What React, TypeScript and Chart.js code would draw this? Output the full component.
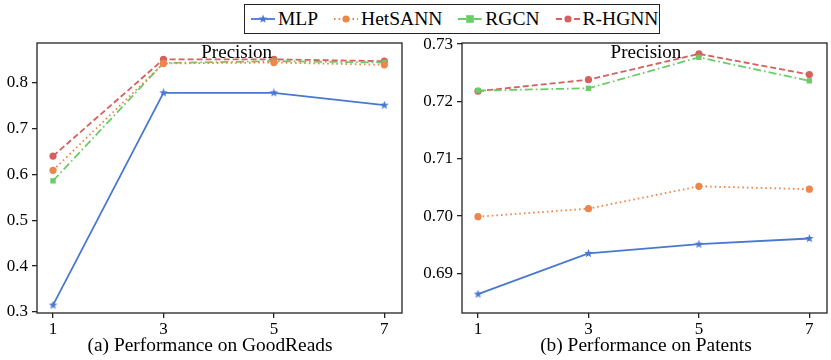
import React, { useEffect, useRef } from "react";
import { Chart, registerables } from "chart.js";
Chart.register(...registerables);

// ---- data ----
const xTicks = [1, 3, 5, 7];
const seriesNames = ["MLP", "HetSANN", "RGCN", "R-HGNN"];

const goodreadsMLP = [0.315, 0.778, 0.778, 0.751];
const goodreadsHetSANN = [0.609, 0.842, 0.844, 0.839];
const goodreadsRGCN = [0.586, 0.843, 0.847, 0.844];
const goodreadsRHGNN = [0.64, 0.851, 0.851, 0.847];

const patentsMLP = [0.6864, 0.6935, 0.6951, 0.6961];
const patentsHetSANN = [0.6999, 0.7013, 0.7052, 0.7047];
const patentsRGCN = [0.7219, 0.7223, 0.7277, 0.7236];
const patentsRHGNN = [0.7218, 0.7238, 0.7283, 0.7247];

const goodreadsYTicks = [0.3, 0.4, 0.5, 0.6, 0.7, 0.8];
const patentsYTicks = [0.69, 0.7, 0.71, 0.72, 0.73];

const panelTitle = "Precision";
const subtitleA = "(a) Performance on GoodReads";
const subtitleB = "(b) Performance on Patents";

// ---- styles ----
const FONT = "'Liberation Serif', 'Times New Roman', serif";
const colors = ["#4878d0", "#ee854a", "#6acc64", "#d65f5f"];
const dashes: number[][] = [[], [1.6, 3], [8, 3, 1.6, 3], [6, 3]];
const markers = ["star", "circle", "rect", "circle"];
const INK = "#222";

function makeStar(size: number, color: string) {
  const c = document.createElement("canvas");
  c.width = size;
  c.height = size;
  const ctx = c.getContext("2d")!;
  const cx = size / 2,
    cy = size / 2,
    R = size / 2,
    r = R * 0.42;
  ctx.beginPath();
  for (let i = 0; i < 10; i++) {
    const a = -Math.PI / 2 + (i * Math.PI) / 5;
    const rad = i % 2 === 0 ? R : r;
    const x = cx + rad * Math.cos(a);
    const y = cy + rad * Math.sin(a);
    if (i === 0) ctx.moveTo(x, y);
    else ctx.lineTo(x, y);
  }
  ctx.closePath();
  ctx.fillStyle = color;
  ctx.fill();
  return c;
}

const framePlugin = {
  id: "frame",
  beforeDatasetsDraw(chart: any) {
    const { ctx, chartArea } = chart;
    ctx.save();
    ctx.strokeStyle = INK;
    ctx.lineWidth = 1.3;
    ctx.strokeRect(chartArea.left, chartArea.top, chartArea.right - chartArea.left, chartArea.bottom - chartArea.top);
    ctx.restore();
  },
  afterDatasetsDraw(chart: any, _args: any, opts: any) {
    const { ctx, chartArea } = chart;
    const w = chartArea.right - chartArea.left;
    ctx.save();
    ctx.fillStyle = "#000";
    ctx.textAlign = "center";
    ctx.textBaseline = "alphabetic";
    ctx.font = `19px ${FONT}`;
    ctx.fillText(opts.text, chartArea.left + w * opts.frac, chartArea.top + 15);
    ctx.font = `19.4px ${FONT}`;
    ctx.fillText(opts.subtitle, chartArea.left + w * opts.subFrac, 351);
    ctx.restore();
  },
};

interface PanelProps {
  values: number[][];
  yMin: number;
  yMax: number;
  yTicks: number[];
  decimals: number;
  subtitle: string;
  width: number;
  left: number;
  areaLeft: number;
  areaRight: number;
  titleFrac: number;
  subFrac: number;
}

function Panel(p: PanelProps) {
  const ref = useRef<HTMLCanvasElement>(null);
  useEffect(() => {
    if (!ref.current) return;
    const stars = makeStar(9, colors[0]);
    const datasets = seriesNames.map((name, i) => ({
      label: name,
      data: xTicks.map((x, j) => ({ x, y: p.values[i][j] })),
      borderColor: colors[i],
      backgroundColor: colors[i],
      borderWidth: 1.8,
      borderDash: dashes[i],
      pointStyle: markers[i] === "star" ? (stars as any) : markers[i],
      pointRadius: markers[i] === "rect" ? 3.8 : 3.6,
      pointBorderWidth: 0,
      fill: false,
      tension: 0,
      clip: false as any,
    }));
    const chart = new Chart(ref.current, {
      type: "line",
      data: { datasets },
      plugins: [framePlugin as any],
      options: {
        animation: false,
        responsive: false,
        maintainAspectRatio: false,
        layout: { padding: { top: 43, right: p.width - p.areaRight, left: 0, bottom: 0 } },
        plugins: {
          legend: { display: false },
          tooltip: { enabled: false },
          frame: { text: panelTitle, frac: p.titleFrac, subtitle: p.subtitle, subFrac: p.subFrac },
        } as any,
        scales: {
          x: {
            type: "linear",
            min: 0.71,
            max: 7.32,
            afterBuildTicks: (s: any) => {
              s.ticks = xTicks.map((v) => ({ value: v }));
            },
            afterFit: (s: any) => {
              s.height = 360 - 313;
            },
            grid: { display: true, drawOnChartArea: false, drawTicks: true, tickLength: 5, color: INK, lineWidth: 1.3 },
            border: { display: false },
            ticks: {
              color: "#000",
              font: { family: FONT, size: 17 },
              padding: 1,
              maxRotation: 0,
              callback: (v: any) => String(v),
            },
          },
          y: {
            type: "linear",
            min: p.yMin,
            max: p.yMax,
            afterBuildTicks: (s: any) => {
              s.ticks = p.yTicks.map((v) => ({ value: v }));
            },
            afterFit: (s: any) => {
              s.width = p.areaLeft;
            },
            grid: { display: true, drawOnChartArea: false, drawTicks: true, tickLength: 5, color: INK, lineWidth: 1.3 },
            border: { display: false },
            ticks: {
              color: "#000",
              font: { family: FONT, size: 17 },
              padding: 4,
              callback: (v: any) => Number(v).toFixed(p.decimals),
            },
          },
        },
      } as any,
    });
    return () => chart.destroy();
  }, []);
  return (
    <canvas
      ref={ref}
      width={p.width}
      height={360}
      style={{ position: "absolute", left: p.left, top: 0, width: p.width, height: 360 }}
    />
  );
}

function LegendMarker({ i }: { i: number }) {
  const c = colors[i];
  const cx = 12,
    cy = 6;
  let m: any;
  if (markers[i] === "star") {
    const pts: string[] = [];
    for (let k = 0; k < 10; k++) {
      const a = -Math.PI / 2 + (k * Math.PI) / 5;
      const rad = k % 2 === 0 ? 4.5 : 1.9;
      pts.push(`${cx + rad * Math.cos(a)},${cy + rad * Math.sin(a)}`);
    }
    m = <polygon points={pts.join(" ")} fill={c} />;
  } else if (markers[i] === "rect") {
    m = <rect x={cx - 3.8} y={cy - 3.8} width={7.6} height={7.6} fill={c} />;
  } else {
    m = <circle cx={cx} cy={cy} r={3.6} fill={c} />;
  }
  return (
    <svg width={24} height={12} style={{ display: "block" }}>
      <line
        x1={0}
        y1={cy}
        x2={24}
        y2={cy}
        stroke={c}
        strokeWidth={1.8}
        strokeDasharray={dashes[i].length ? dashes[i].join(" ") : undefined}
      />
      {m}
    </svg>
  );
}

export default function App() {
  useEffect(() => {
    document.body.style.margin = "0";
  }, []);
  return (
    <div style={{ position: "fixed", left: 0, top: 0, width: 831, height: 360, background: "#fff", overflow: "hidden" }}>
      <Panel
        values={[goodreadsMLP, goodreadsHetSANN, goodreadsRGCN, goodreadsRHGNN]}
        yMin={0.2978}
        yMax={0.8866}
        yTicks={goodreadsYTicks}
        decimals={1}
        subtitle={subtitleA}
        width={415}
        left={0}
        areaLeft={37}
        areaRight={402}
        titleFrac={0.547}
        subFrac={0.474}
      />
      <Panel
        values={[patentsMLP, patentsHetSANN, patentsRGCN, patentsRHGNN]}
        yMin={0.6831}
        yMax={0.7302}
        yTicks={patentsYTicks}
        decimals={2}
        subtitle={subtitleB}
        width={416}
        left={415}
        areaLeft={47}
        areaRight={412}
        titleFrac={0.504}
        subFrac={0.504}
      />
      <div
        style={{
          position: "absolute",
          left: 244,
          top: 4,
          width: 416,
          height: 30,
          boxSizing: "border-box",
          border: `1.3px solid ${INK}`,
          background: "#fff",
          display: "flex",
          alignItems: "center",
          paddingLeft: 6,
          fontFamily: FONT,
          fontSize: 19.5,
          color: "#000",
        }}
      >
        {seriesNames.map((n, i) => (
          <div key={n} style={{ display: "flex", alignItems: "center", marginRight: i < 3 ? 16 : 0 }}>
            <LegendMarker i={i} />
            <span style={{ marginLeft: 3, lineHeight: "20px" }}>{n}</span>
          </div>
        ))}
      </div>
    </div>
  );
}
